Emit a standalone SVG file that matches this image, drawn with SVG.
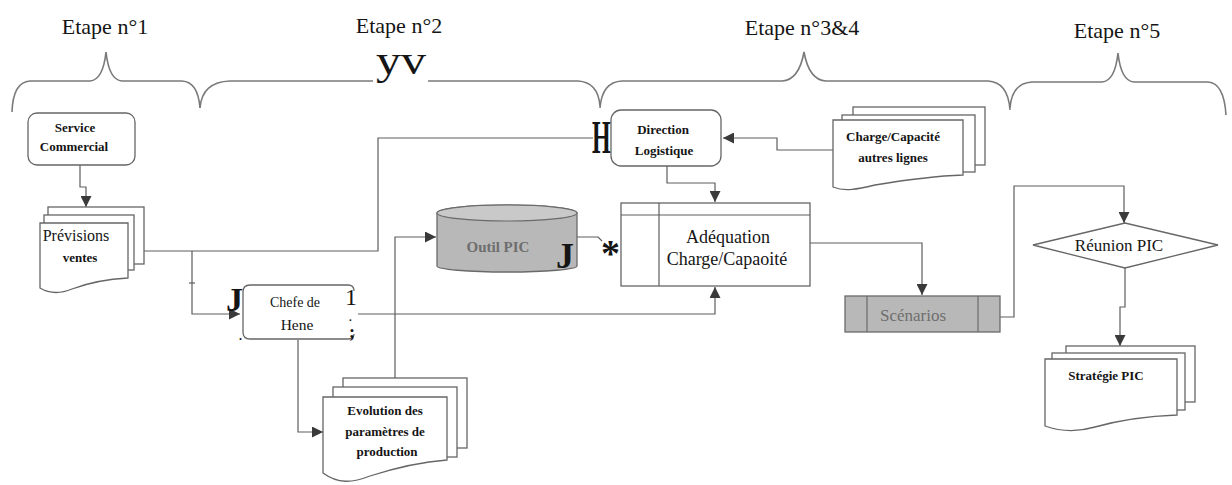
<svg xmlns="http://www.w3.org/2000/svg" width="1232" height="485" viewBox="0 0 1232 485" font-family="Liberation Serif, Times New Roman, serif">
<defs>
<marker id="arr" viewBox="0 0 10 10" refX="10" refY="5" markerWidth="11" markerHeight="11" markerUnits="userSpaceOnUse" orient="auto"><path d="M0,0 L10,5 L0,10 Z" fill="#3a3a3a"/></marker>
</defs>
<style>
text{fill:#151515}
.brace{fill:none;stroke:#7a7a7a;stroke-width:1.6}
.box{fill:#fff;stroke:#666;stroke-width:1.3}
.line{fill:none;stroke:#5e5e5e;stroke-width:1.2}
.arrow{marker-end:url(#arr)}
.sm{font-size:13px;font-weight:bold;text-anchor:middle}
.mid{text-anchor:middle}
.et{font-size:22px;text-anchor:middle}
.gray{fill:#b8b8b8;stroke:#6a6a6a;stroke-width:1.3}
.gtxt{fill:#6e6e6e;text-anchor:middle}
.art{font-weight:bold}
</style>
<rect width="1232" height="485" fill="#fff"/>

<g id="steps">
<text class="et" font-family="Liberation Serif, serif" x="105" y="34">Etape n°1</text>
<text class="et" font-family="Liberation Serif, serif" x="399" y="33">Etape n°2</text>
<text class="et" font-family="Liberation Serif, serif" x="802" y="35">Etape n°3&amp;4</text>
<text class="et" font-family="Liberation Serif, serif" x="1117" y="38">Etape n°5</text>
<path class="brace" d="M12,112 Q13,82 30,81 L90,81 Q103,80 106,52 Q109,80 122,81 L182,81 Q198,82 200,108"/>
<path class="brace" d="M200,108 Q202,82 230,81 L373,81 M428,81 L578,81 Q598,82 600,106"/>
<path class="brace" d="M600,108 Q602,82 622,81 L782,81 Q799,80 804,52 Q809,80 826,81 L988,81 Q1008,82 1010,110"/>
<path class="brace" d="M1010,108 Q1012,83 1032,82 L1102,82 Q1115,81 1118,53 Q1121,81 1134,82 L1208,82 Q1224,83 1226,115"/>
<text class="mid" font-family="Liberation Serif, serif" x="401" y="74" font-size="41" textLength="50" lengthAdjust="spacingAndGlyphs">yv</text>
</g>

<g id="connectors">
<path class="line arrow" d="M80,165 V187 H86 V207"/>
<path class="line" d="M144,251 H378 V138 H593"/>
<path class="line arrow" d="M192,251 V314 H240"/>
<path class="line" d="M189,283 H195"/>
<path class="line arrow" d="M358,314 H715 V287"/>
<path class="line arrow" d="M395,378 V237 H436"/>
<path class="line arrow" d="M298,340 V432 H323"/>
<path class="line" d="M577,237 H598 L602,241"/>
<path class="line arrow" d="M667,165 V183 H715 V202"/>
<path class="line arrow" d="M833,150 H777 V138 H723"/>
<path class="line arrow" d="M810,243 H922 V295"/>
<path class="line arrow" d="M1000,317 H1014 V186 H1124 V223"/>
<path class="line arrow" d="M1125,268 V307 H1120 V346"/>
</g>

<g id="service-commercial">
<rect class="box" x="28" y="113" width="107" height="52" rx="9"/>
<text class="sm" font-family="Liberation Serif, serif" x="75" y="132">Service</text>
<text class="sm" font-family="Liberation Serif, serif" x="74" y="151">Commercial</text>
</g>

<g id="previsions-ventes">
<rect class="box" x="48" y="207" width="96" height="57"/>
<rect class="box" x="44" y="215" width="90" height="55"/>
<path class="box" d="M40,223 H128 V278 C108,279 88,283 72,289 C60,294 50,294 40,288 Z"/>
<text class="mid" font-family="Liberation Serif, serif" x="76" y="241" font-size="16">Prévisions</text>
<text class="sm" font-family="Liberation Serif, serif" x="80" y="262" font-size="13.5">ventes</text>
</g>

<g id="chefe-de-hene">
<path class="box" d="M354,291 Q354,285 348,285 H250 Q243,285 243,292 V332 Q243,339 250,339 H348 Q354,339 354,334"/>
<text class="mid" font-family="Liberation Serif, serif" x="295" y="307" font-size="14">Chefe de</text>
<text class="mid" font-family="Liberation Serif, serif" x="297" y="330" font-size="15.5">Hene</text>
<text class="art" font-family="Liberation Serif, serif" x="226" y="311" font-size="34">J</text>
<text class="mid" font-family="Liberation Serif, serif" x="351" y="305" font-size="24">1</text>
<text class="art" font-family="Liberation Serif, serif" x="349" y="321" font-size="11">.</text>
<text class="art" font-family="Liberation Serif, serif" x="349" y="338" font-size="18">;</text>
<text class="art" font-family="Liberation Serif, serif" x="239" y="340" font-size="12">.</text>
</g>

<g id="evolution">
<rect class="box" x="343" y="378" width="124" height="70"/>
<rect class="box" x="333" y="387" width="124" height="70"/>
<path class="box" d="M323,397 H447 V460 C420,462 395,468 370,476 C352,483 338,484 323,473 Z"/>
<text class="sm" font-family="Liberation Serif, serif" x="385" y="415" font-size="13.5">Evolution des</text>
<text class="sm" font-family="Liberation Serif, serif" x="385" y="436" font-size="13.5">paramètres de</text>
<text class="sm" font-family="Liberation Serif, serif" x="387" y="456" font-size="13.5">production</text>
</g>

<g id="outil-pic">
<path class="gray" d="M437,213 A70,8 0 0 1 577,213 V266 A70,6 0 0 1 437,266 Z"/>
<ellipse cx="507" cy="213" rx="70" ry="8" fill="#c9c9c9" stroke="#6a6a6a" stroke-width="1.2"/>
<text class="gtxt" font-family="Liberation Serif, serif" x="498" y="252" font-size="15" font-weight="bold">Outil PIC</text>
<text class="art" font-family="Liberation Serif, serif" x="556" y="268" font-size="36">J</text>
<text class="art" font-family="Liberation Serif, serif" x="601" y="266" font-size="38">*</text>
</g>

<g id="direction-logistique">
<rect class="box" x="611" y="110" width="110" height="56" rx="10"/>
<text class="sm" font-family="Liberation Serif, serif" x="663" y="134">Direction</text>
<text class="sm" font-family="Liberation Serif, serif" x="664" y="155">Logistique</text>
<text class="art" font-family="Liberation Serif, serif" x="592" y="153" font-size="46" transform="translate(592 0) scale(0.52 1) translate(-592 0)">H</text>
</g>

<g id="charge-capacite">
<rect class="box" x="853" y="107" width="132" height="58"/>
<rect class="box" x="842" y="115" width="133" height="57"/>
<path class="box" d="M833,120 H963 V175 C935,176 905,180 875,185 C858,189 845,192 833,187 Z"/>
<text class="sm" font-family="Liberation Serif, serif" x="893" y="141">Charge/Capacité</text>
<text class="sm" font-family="Liberation Serif, serif" x="893" y="162">autres lignes</text>
</g>

<g id="adequation">
<rect class="box" x="621" y="203" width="189" height="83"/>
<path class="line" d="M621,215 H810 M659,203 V286"/>
<text class="mid" font-family="Liberation Serif, serif" x="728" y="243" font-size="18">Adéquation</text>
<text class="mid" font-family="Liberation Serif, serif" x="727" y="265" font-size="18">Charge/Capaoité</text>
</g>

<g id="scenarios">
<rect class="gray" x="845" y="296" width="155" height="36"/>
<path fill="none" stroke="#6a6a6a" stroke-width="1.2" d="M867,296 V332 M978,296 V332"/>
<text class="gtxt" font-family="Liberation Serif, serif" x="913" y="321" font-size="17">Scénarios</text>
</g>

<g id="reunion-pic">
<path class="box" d="M1033,245 L1125,223 L1218,245 L1125,268 Z"/>
<text class="mid" font-family="Liberation Serif, serif" x="1119" y="251" font-size="17">Réunion PIC</text>
</g>

<g id="strategie-pic">
<rect class="box" x="1066" y="346" width="129" height="56"/>
<rect class="box" x="1052" y="353" width="133" height="57"/>
<path class="box" d="M1045,359 H1177 V415 C1150,416 1120,420 1095,427 C1078,432 1062,432 1045,426 Z"/>
<text class="sm" font-family="Liberation Serif, serif" x="1106" y="380" font-size="14">Stratégie PIC</text>
</g>
</svg>
